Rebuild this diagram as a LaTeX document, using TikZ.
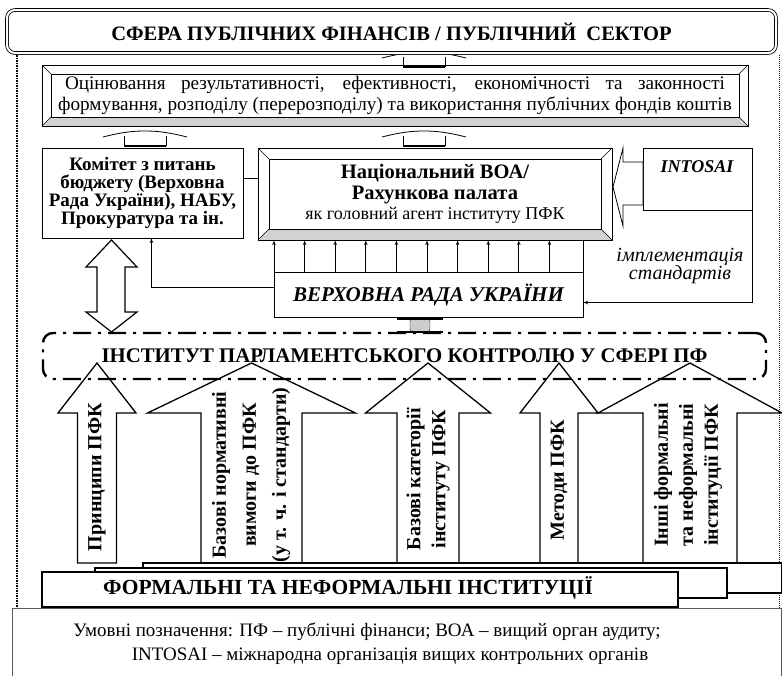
\documentclass[tikz,border=0pt]{standalone}
\usepackage{fontspec}
\setmainfont{Liberation Serif}
\usetikzlibrary{arrows}

\begin{document}
\begin{tikzpicture}[x=1pt,y=-1pt]
\tikzset{box/.style = {shape=rectangle,draw,outer sep=0pt,inner sep=1pt,align=center}}
\tikzset{bevel/.style = {box,line width=1pt}}
\tikzset{edge/.style = {->,> = latex',line width=0.7pt}}
\tikzset{block/.style = {draw,line width=1.3pt,line join=miter}}
\tikzset{vtext/.style = {rotate=90,align=center,font=\bfseries\fontsize{20}{25}\selectfont}}
\tikzset{bridge/.pic = {
  \draw[line width=0.8pt] (-21,5) -- (-21,15) (21,5) -- (21,15);
  \draw[line width=2.2pt] (-21,15) -- (21,15);
  \draw[line width=0.8pt] (-42,6) .. controls (-22,1) and (-12,0) .. (0,0) .. controls (12,0) and (22,1) .. (42,6);}}
\useasboundingbox (0,0) rectangle (782,675);
% frame and legend
\draw[densely dotted,line width=1.5pt] (17,55) -- (17,608);
\draw[densely dotted,line width=1pt] (779,55) -- (779,608);
\draw[gray!70!black,line width=0.8pt] (12,676) |- (781,608) -- (781,676);
\node[font=\fontsize{19}{20}\selectfont] (legA) at (367,632) {Умовні позначення: ПФ – публічні фінанси; ВОА – вищий орган аудиту;};
\node[font=\fontsize{19}{20}\selectfont] (legB) at (390,656) {INTOSAI – міжнародна організація вищих контрольних органів};
% bridges
\pic at (424,52) {bridge};
\pic at (145,131) {bridge};
\pic at (424,131) {bridge};
% top boxes
\node[draw,double,double distance=2pt,line width=0.8pt,rounded corners=8pt,fill=white,
  minimum width=769,minimum height=43,outer sep=0pt] (sfera) at (391.5,31.5)
  {\bfseries\fontsize{20.5}{22}\selectfont СФЕРА ПУБЛІЧНИХ ФІНАНСІВ / ПУБЛІЧНИЙ~~СЕКТОР};
\node[bevel,minimum width=706,minimum height=61,font=\fontsize{19.2}{20.5}\selectfont] (eval) at (395,95.5)
  {\makebox[660pt][s]{Оцінювання результативності, ефективності, економічності та законності}\\
   формування, розподілу (перерозподілу) та використання публічних фондів коштів};
\node[box,minimum width=201,minimum height=90,font=\bfseries\fontsize{19}{17.8}\selectfont] (kom) at (142.5,193)
  {Комітет з питань\\бюджету (Верховна\\Рада України), НАБУ,\\Прокуратура та ін.};
\node[bevel,minimum width=354,minimum height=92,font=\fontsize{18}{20.5}\selectfont] (nat) at (435,194)
  {{\fontsize{20.5}{20.5}\selectfont\bfseries Національний ВОА/}\\{\fontsize{20.5}{20.5}\selectfont\bfseries Рахункова палата}\\як головний агент інституту ПФК};
\foreach \n/\d in {eval/9,nat/11}{
  \fill[gray!35] (\n.south west) -- (\n.south east) -- ([shift={(-\d pt,\d pt)}]\n.south east) -- ([shift={(\d pt,\d pt)}]\n.south west) -- cycle;
  \draw[line width=0.6pt] ([shift={(\d pt,-\d pt)}]\n.north west) rectangle ([shift={(-\d pt,\d pt)}]\n.south east);
  \draw[line width=0.6pt] (\n.north west) -- ++(\d pt,-\d pt) (\n.north east) -- ++(-\d pt,-\d pt)
    (\n.south west) -- ++(\d pt,\d pt) (\n.south east) -- ++(-\d pt,\d pt);
  \draw[line width=1pt] (\n.north west) rectangle (\n.south east);
}
\node[box,minimum width=109,minimum height=62] (into) at (697.5,179) {};
\node[font=\bfseries\itshape\fontsize{18}{19}\selectfont,anchor=base] (intotxt) at (697,172) {INTOSAI};
\draw[block,line width=0.8pt,fill=white] (613,187) -- (623,148) -- (623,162) -- (643,162) -- (643,205) -- (623,205) -- (623,226) -- cycle;
\node[box,minimum width=309,minimum height=45,font=\bfseries\itshape\fontsize{21}{22}\selectfont] (vr) at (428.5,294.5) {ВЕРХОВНА РАДА УКРАЇНИ};
\node[font=\itshape\fontsize{20}{18.5}\selectfont,align=center] (impl) at (680,266) {імплементація\\стандартів};
% edges
\foreach \k in {0,...,9}{
  \coordinate (vr\k) at ([xshift=\k*30.6pt]vr.north west);
  \draw[edge] (vr\k) -- (vr\k |- nat.south);
}
\draw (vr.north east) -- (vr.north east |- nat.south);
\coordinate (k1) at ([yshift=15pt]kom.east);
\draw (k1) -- (k1 -| nat.west);
\draw[edge] ([yshift=7.5pt]vr.west) -| ([xshift=9pt]kom.south);
\draw[edge] (into.south east) |- ([yshift=-8pt]vr.east);
% double arrow
\draw[block,line width=1.2pt,fill=white] (111.5,240) -- (137,267) -- (125,267) -- (125,312) -- (137,312) -- (111.5,332)
  -- (86,312) -- (97,312) -- (97,267) -- (86,267) -- cycle;
% big arrows
\foreach \c/\hw/\sw in {97/39/19.5, 251.5/104/50.5, 428/62.5/31, 559/39/19, 690/92/47}{
  \draw[block] (\c,363) -- (\c+\hw,413) -- (\c+\sw,413) -- (\c+\sw,563) -- (\c-\sw,563) -- (\c-\sw,413) -- (\c-\hw,413) -- cycle;
}
\node[vtext] (a1) at (97,477) {Принципи ПФК};
\node[vtext,font=\bfseries\fontsize{20}{30}\selectfont] (a2) at (251,475) {Базові нормативні\\вимоги до ПФК\\(у т. ч. і стандарти)};
\node[vtext] (a3) at (428,479) {Базові категорії\\інституту ПФК};
\node[vtext] (a4) at (559,480) {Методи ПФК};
\node[vtext] (a5) at (688,475) {Інші формальні\\та неформальні\\інституції ПФК};
% bottom boxes
\draw[line width=2.2pt,fill=white] (143,563) rectangle (782,593);
\draw[line width=2.2pt,fill=white] (95,568) rectangle (727,598);
\draw[line width=2.2pt,fill=white] (42,572) rectangle (678,607);
\node[font=\bfseries\fontsize{21.5}{22}\selectfont] (form) at (348,588) {ФОРМАЛЬНІ ТА НЕФОРМАЛЬНІ ІНСТИТУЦІЇ};
% institute
\node[draw,line width=2.4pt,dash pattern=on 18pt off 7pt on 3pt off 7pt,rounded corners=10pt,
  minimum width=723,minimum height=46,font=\bfseries\fontsize{20.8}{22}\selectfont] (inst) at (404.5,356)
  {ІНСТИТУТ ПАРЛАМЕНТСЬКОГО КОНТРОЛЮ У СФЕРІ ПФ};
\draw[fill=gray!40,rounded corners=3pt] (410,318) rectangle (430,332);
\draw[line width=1.6pt] (397,319) -- (443,319) (397,332) -- (443,332);
\end{tikzpicture}
\end{document}
